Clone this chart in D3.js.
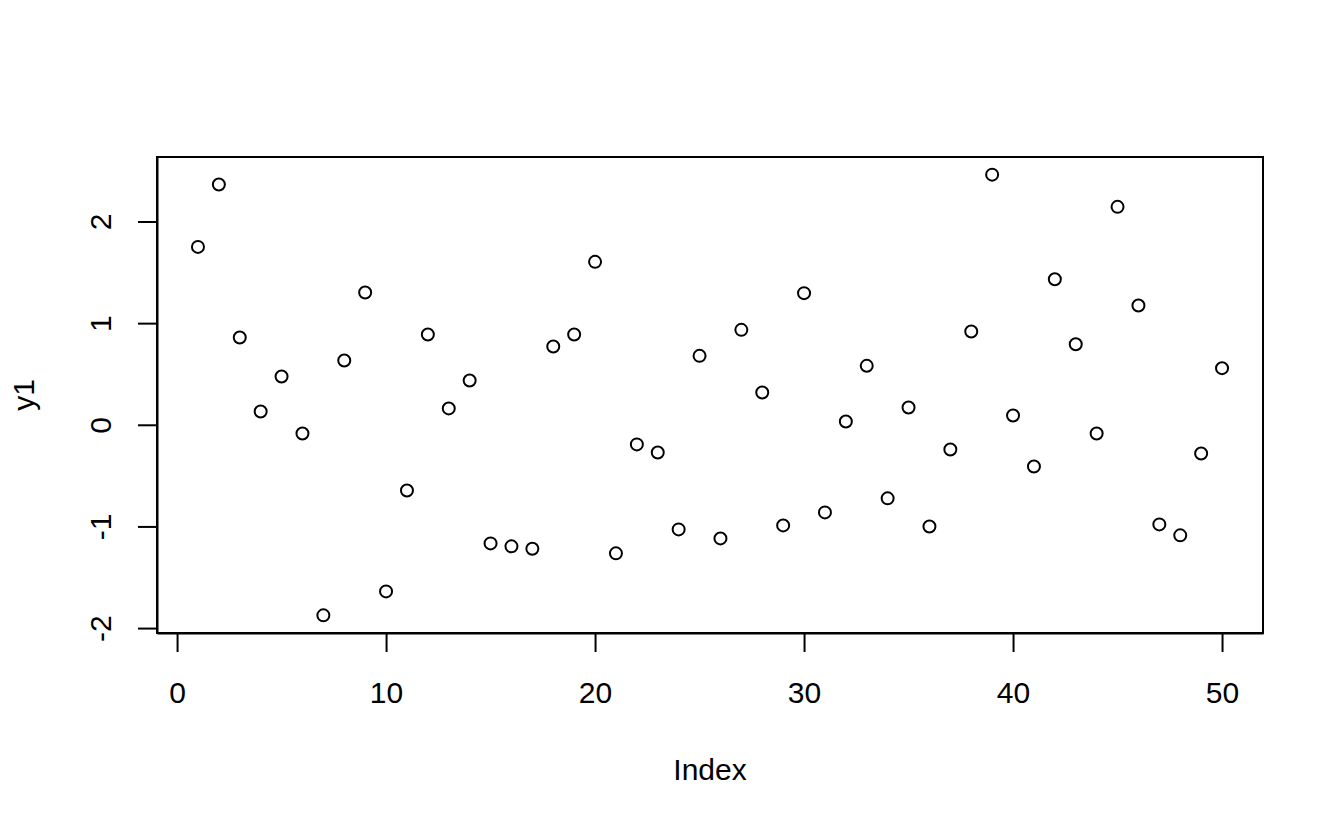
<!DOCTYPE html>
<html>
<head>
<meta charset="utf-8">
<script src="https://cdn.jsdelivr.net/npm/d3@7"></script>
<style>
  html, body { margin: 0; padding: 0; background: #fff; }
  svg { display: block; }
  text { font-family: "Liberation Sans", Arial, sans-serif; fill: #000; }
</style>
</head>
<body>
<svg id="chart" width="1344" height="830"></svg>
<script>
const y1 = [1.750, 2.364, 0.859, 0.131, 0.475, -0.086, -1.875, 0.632, 1.301, -1.639,
            -0.646, 0.888, 0.161, 0.436, -1.167, -1.196, -1.219, 0.770, 0.888, 1.603,
            -1.265, -0.193, -0.272, -1.029, 0.678, -1.118, 0.934, 0.318, -0.990, 1.295,
            -0.862, 0.033, 0.580, -0.724, 0.170, -1.000, -0.243, 0.918, 2.461, 0.092,
            -0.410, 1.432, 0.793, -0.086, 2.144, 1.173, -0.980, -1.088, -0.282, 0.557];
const index = y1.map((d, i) => i + 1);
const xTicks = [0, 10, 20, 30, 40, 50];
const yTicks = [-2, -1, 0, 1, 2];
const xLabel = "Index";
const yLabel = "y1";

const svg = d3.select("#chart");
const pLeft = 157, pRight = 1263, pTop = 157, pBottom = 633;

function rExpand(ext) {
  const pad = (ext[1] - ext[0]) * 0.04;
  return [ext[0] - pad, ext[1] + pad];
}

const x = d3.scaleLinear().domain(rExpand(d3.extent(index))).range([pLeft, pRight]);
const y = d3.scaleLinear().domain(rExpand(d3.extent(y1))).range([pBottom, pTop]);
const plainFmt = d => String(d);

// box
svg.append("rect")
  .attr("x", pLeft).attr("y", pTop)
  .attr("width", pRight - pLeft).attr("height", pBottom - pTop)
  .attr("fill", "none").attr("stroke", "#000").attr("stroke-width", 2);

// x axis
const gx = svg.append("g")
  .attr("transform", `translate(0,${pBottom})`)
  .call(d3.axisBottom(x).tickValues(xTicks).tickSize(19).tickSizeOuter(0).tickFormat(plainFmt));
gx.attr("font-family", null).attr("font-size", null);
gx.select(".domain").attr("stroke-width", 2);
gx.selectAll(".tick line").attr("stroke-width", 2);
gx.selectAll(".tick text")
  .attr("y", 70).attr("dy", null)
  .style("font-size", "30px")
  .attr("fill", "#000");

// y axis
const gy = svg.append("g")
  .attr("transform", `translate(${pLeft},0)`)
  .call(d3.axisLeft(y).tickValues(yTicks).tickSize(19).tickSizeOuter(0).tickFormat(plainFmt));
gy.attr("font-family", null).attr("font-size", null);
gy.select(".domain").attr("stroke-width", 2);
gy.selectAll(".tick line").attr("stroke-width", 2);
gy.selectAll(".tick text")
  .attr("x", null).attr("y", null).attr("dy", null)
  .attr("text-anchor", "middle")
  .attr("transform", "translate(-46,0) rotate(-90)")
  .style("font-size", "30px")
  .attr("fill", "#000");

// points
svg.append("g")
  .selectAll("circle")
  .data(y1)
  .join("circle")
  .attr("cx", (d, i) => x(index[i]))
  .attr("cy", d => y(d))
  .attr("r", 6)
  .attr("fill", "none")
  .attr("stroke", "#000")
  .attr("stroke-width", 2);

// axis titles
svg.append("text")
  .attr("x", (pLeft + pRight) / 2)
  .attr("y", 780)
  .attr("text-anchor", "middle")
  .style("font-size", "30px")
  .text(xLabel);

svg.append("text")
  .attr("transform", `translate(33.5,${(pTop + pBottom) / 2}) rotate(-90)`)
  .attr("text-anchor", "middle")
  .style("font-size", "30px")
  .text(yLabel);
</script>
</body>
</html>
